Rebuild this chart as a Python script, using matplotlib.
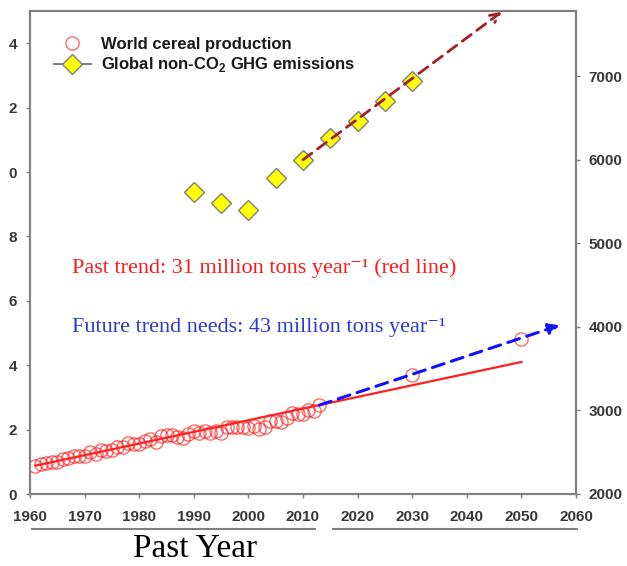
import numpy as np
import matplotlib
matplotlib.use("Agg")
import matplotlib.pyplot as plt
from matplotlib.lines import Line2D

plt.rcParams['font.family'] = ['Liberation Sans', 'DejaVu Sans']

# World cereal production (left axis), 1961-2013
cereal_years = np.arange(1961, 2014)
cereal = [0.877, 0.936, 0.958, 1.005, 1.004, 1.087, 1.128, 1.169, 1.180, 1.193,
          1.291, 1.256, 1.357, 1.326, 1.364, 1.465, 1.446, 1.578, 1.548, 1.550,
          1.632, 1.695, 1.630, 1.788, 1.817, 1.829, 1.773, 1.727, 1.877, 1.952,
          1.889, 1.970, 1.895, 1.954, 1.897, 2.071, 2.093, 2.083, 2.084, 2.060,
          2.109, 2.032, 2.082, 2.272, 2.266, 2.239, 2.348, 2.520, 2.489, 2.474,
          2.597, 2.566, 2.779]

# Required future production
future_years = [2030, 2050]
future_cereal = [3.7, 4.8]

# Past linear trend (red line) and needed trend (blue arrow)
trend_years = [1961, 2050]
trend_vals = [0.88, 4.10]
need_years = [2013, 2057]
need_vals = [2.76, 5.24]

# Global non-CO2 GHG emissions (right axis)
ghg_years = [1990, 1995, 2000, 2005, 2010, 2015, 2020, 2025, 2030]
ghg = [5617, 5485, 5401, 5784, 6000, 6263, 6467, 6707, 6946]
ghg_proj_years = [2010, 2046.4]
ghg_proj_vals = [6000, 7770]

x_ticks = list(range(1960, 2061, 10))
left_ticks = list(range(0, 15, 2))
left_labels = ['0', '2', '4', '6', '8', '0', '2', '4']
right_ticks = list(range(2000, 7001, 1000))

W, H = 627, 566
fig = plt.figure(figsize=(W / 100, H / 100), dpi=100)
ax = fig.add_axes([30 / W, 1 - 494 / H, 546 / W, 483 / H])
ax2 = ax.twinx()

grey = '#808080'
tick_col = '#383838'

ax.set_xlim(1960, 2060)
ax.set_ylim(0, 15)
ax2.set_ylim(2000, 7780)

for a in (ax, ax2):
    for s in a.spines.values():
        s.set_color(grey)
        s.set_linewidth(1.5)

ax.set_xticks(x_ticks)
ax.set_yticks(left_ticks)
ax.set_yticklabels(left_labels)
ax2.set_yticks(right_ticks)

ax.tick_params(axis='x', direction='out', length=3, width=1, color=grey,
               pad=8.5, labelsize=11, labelcolor=tick_col)
ax.tick_params(axis='y', direction='out', length=3, width=1, color=grey,
               pad=6.5, labelsize=11, labelcolor=tick_col)
ax2.tick_params(axis='y', direction='out', length=3, width=1, color=grey,
                pad=6, labelsize=11, labelcolor=tick_col)
for lbl in ax.get_xticklabels() + ax.get_yticklabels() + ax2.get_yticklabels():
    lbl.set_fontweight('bold')

# Cereal production
circ_col = (1.0, 0.1, 0.1, 0.65)
ax.plot(cereal_years, cereal, linestyle='none', marker='o', ms=9.5,
        mfc='none', mec=circ_col, mew=1.0, zorder=3)
ax.plot(future_years, future_cereal, linestyle='none', marker='o', ms=9.5,
        mfc='none', mec=circ_col, mew=1.0, zorder=3)
ax.plot(trend_years, trend_vals, color='#ff2020', lw=1.6, zorder=4)
ax.annotate('', xy=(need_years[1], need_vals[1]),
            xytext=(need_years[0], need_vals[0]),
            arrowprops=dict(arrowstyle='-|>', color='#1010ff', lw=2.2,
                            linestyle=(0, (4, 2.5)), mutation_scale=16,
                            shrinkA=0, shrinkB=0), zorder=5)

# GHG emissions
ax2.plot(ghg_years, ghg, linestyle='none', marker='D', ms=10.5,
         mfc='#ffff00', mec=grey, mew=1.0, zorder=3)
ax2.annotate('', xy=(ghg_proj_years[1], ghg_proj_vals[1]),
             xytext=(ghg_proj_years[0], ghg_proj_vals[0]),
             arrowprops=dict(arrowstyle='->', color='#a51f28', lw=2.0,
                             linestyle=(0, (4, 2.5)), mutation_scale=16,
                             shrinkA=0, shrinkB=0), zorder=5)

# Legend
h1 = Line2D([], [], linestyle='none', marker='o', ms=9.5, mfc='none',
            mec=circ_col, mew=1.0)
h2 = Line2D([], [], color=grey, lw=1.5, marker='D', ms=10.5, mfc='#ffff00',
            mec=grey, mew=1.0)
leg = ax2.legend([h1, h2], ['World cereal production',
                            r'Global non-CO$_\mathregular{2}$ GHG emissions'],
                 loc='upper left', bbox_to_anchor=(0.044, 0.946),
                 frameon=False, borderpad=0, borderaxespad=0,
                 handlelength=2.2, handletextpad=0.6, labelspacing=0.2,
                 prop={'family': 'Liberation Sans', 'weight': 'bold', 'size': 12})
for t in leg.get_texts():
    t.set_color('#1a1a1a')

# Trend annotations
serif = ['Liberation Serif', 'DejaVu Serif']
ax.text(1967.7, 6.86, 'Past trend: 31 million tons year\u207b\u00b9 (red line)',
        color='#ff1a1a', fontsize=16, family=serif, va='baseline', ha='left')
ax.text(1967.7, 5.02, 'Future trend needs: 43 million tons year\u207b\u00b9',
        color='#2a3bd4', fontsize=16, family=serif, va='baseline', ha='left')

# Period underlines and caption below the axis
bt = ax.get_xaxis_transform()
ax.plot([1960.4, 2012.2], [-0.0725, -0.0725], color=grey, lw=1.5,
        transform=bt, clip_on=False)
ax.plot([2015.5, 2060.2], [-0.0725, -0.0725], color=grey, lw=1.5,
        transform=bt, clip_on=False)
ax.text(1990.3, -0.144, 'Past Year', transform=bt, ha='center', va='bottom',
        fontsize=24, family=serif, color='black')

fig.savefig('out.png', dpi=100)
